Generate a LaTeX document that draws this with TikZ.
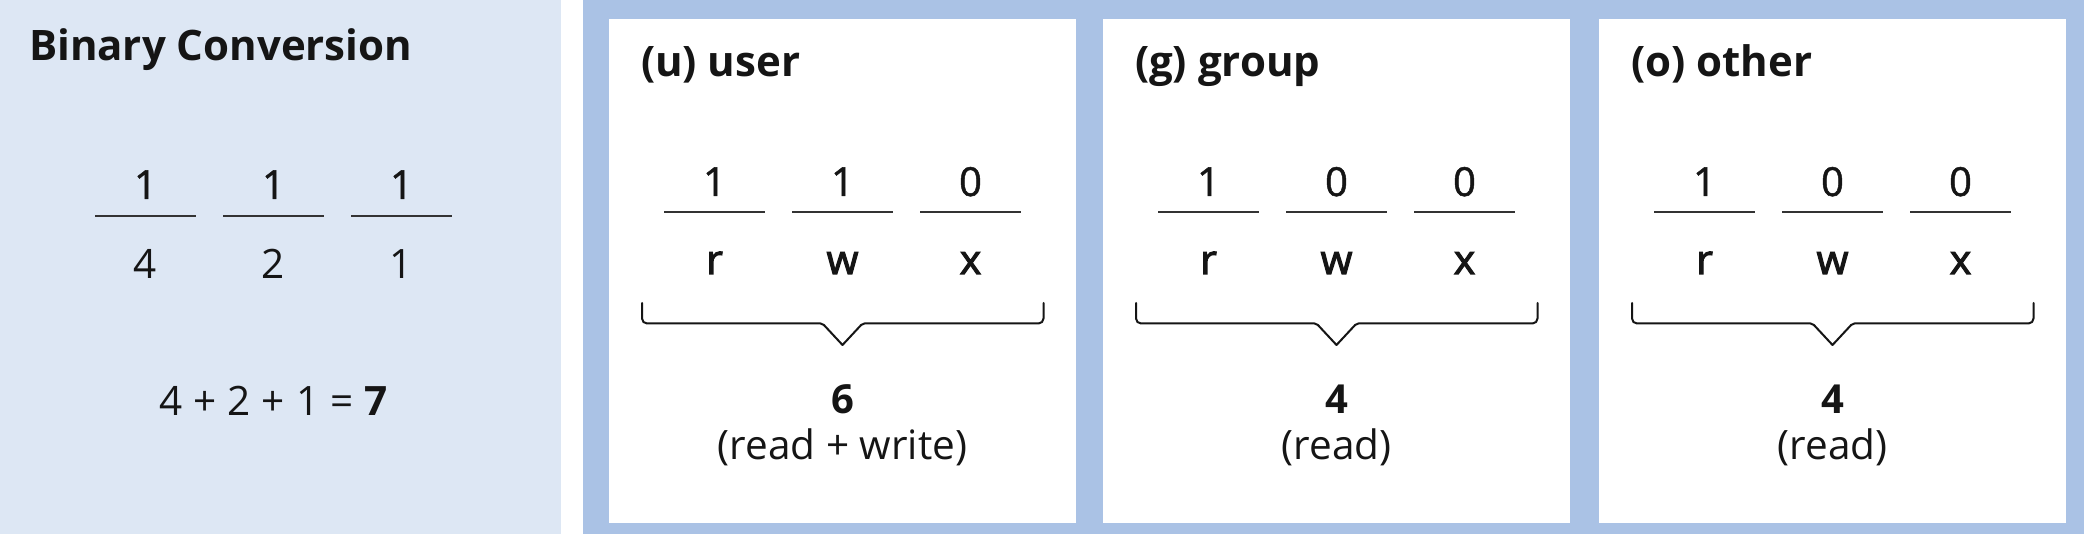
\documentclass[tikz,border=0pt]{standalone}
\usepackage{fontspec}
\setmainfont{Open Sans}
\newfontfamily\medfont[FakeBold=1.2]{Open Sans}
\newfontfamily\semifont[FakeBold=2.6]{Open Sans}
\definecolor{panelL}{HTML}{DDE7F4}
\definecolor{panelB}{HTML}{AAC2E5}
\definecolor{ink}{HTML}{151515}
\definecolor{rule}{HTML}{333333}
\tikzset{
  txt/.style={inner sep=0pt, outer sep=0pt, text=ink, font=\fontsize{40.5}{46}\selectfont},
  bitnum/.style={txt, anchor=base, font=\fontsize{40}{46}\selectfont\medfont},
  perm/.style={txt, anchor=base, font=\fontsize{41}{46}\selectfont\semifont},
  ttl/.style={txt, anchor=base west, font=\fontsize{42}{46}\selectfont\bfseries},
  bitline/.style={draw=rule, line width=2pt},
  bracketline/.style={draw=ink, line width=2pt, line cap=round, line join=round},
  card/.style={fill=white, draw=none}
}
\begin{document}
\begin{tikzpicture}[x=1pt,y=1pt]
\useasboundingbox (0,0) rectangle (2084,534);
\fill[white] (0,0) rectangle (2084,534);
% left panel
\fill[panelL] (0,0) rectangle (561,534);
\fill[panelB] (583,0) rectangle (2084,534);
\node[ttl] (bctitle) at (29,473) {Binary Conversion};
\foreach \ii/\xx/\ww in {1/145.5/4, 2/273.5/2, 3/401.5/1}{
  \node[bitnum] (lbit\ii) at (\xx,335) {1};
  \draw[bitline] (\xx-50.5,318) -- (\xx+50.5,318);
  \node[txt, anchor=base] (lw\ii) at (\xx,255) {\ww};
}
\node[txt, anchor=base] (sum) at (273.5,118) {4\hspace{11pt}+\hspace{11pt}2\hspace{11pt}+\hspace{11pt}1\hspace{11pt}=\hspace{11pt}\textbf{7}};
% cards
\foreach \cn/\cL/\cR/\cT/\bA/\bB/\bC/\cV/\cD in {u/609/1076/{(u) user}/1/1/0/6/{(read + write)}, g/1103/1570/{(g) group}/1/0/0/4/{(read)}, o/1599/2066/{(o) other}/1/0/0/4/{(read)}}{
  \pgfmathsetmacro{\cx}{(\cL+\cR)/2}
  \fill[card] (\cL,11) rectangle (\cR,515);
  \node[ttl] (\cn-title) at (\cL+32,457) {\cT};
  \foreach \kk/\bit/\lt in {-1/\bA/r, 0/\bB/w, 1/\bC/x}{
    \node[bitnum] (\cn-bit\kk) at (\cx+\kk*128,338) {\bit};
    \draw[bitline] (\cx+\kk*128-50.5,321.5) -- (\cx+\kk*128+50.5,321.5);
    \node[perm] (\cn-let\kk) at (\cx+\kk*128,260) {\lt};
  }
  \coordinate (\cn-bl) at (\cx-200.5,231);
  \coordinate (\cn-br) at (\cx+201,231);
  \coordinate (\cn-tip) at (\cx,189);
  \draw[bracketline] (\cn-bl) [rounded corners=5pt] -- (\cx-200.5,210.5) [rounded corners=2pt] -- (\cx-20,210.5) [sharp corners] -- (\cn-tip) [rounded corners=2pt] -- (\cx+20,210.5) [rounded corners=5pt] -- (\cx+201,210.5) -- (\cn-br);
  \node[txt, anchor=base, font=\fontsize{40}{46}\selectfont\bfseries] (\cn-val) at (\cx,120) {\cV};
  \node[txt, anchor=base] (\cn-desc) at (\cx,74.5) {\cD};
}
\end{tikzpicture}
\end{document}
